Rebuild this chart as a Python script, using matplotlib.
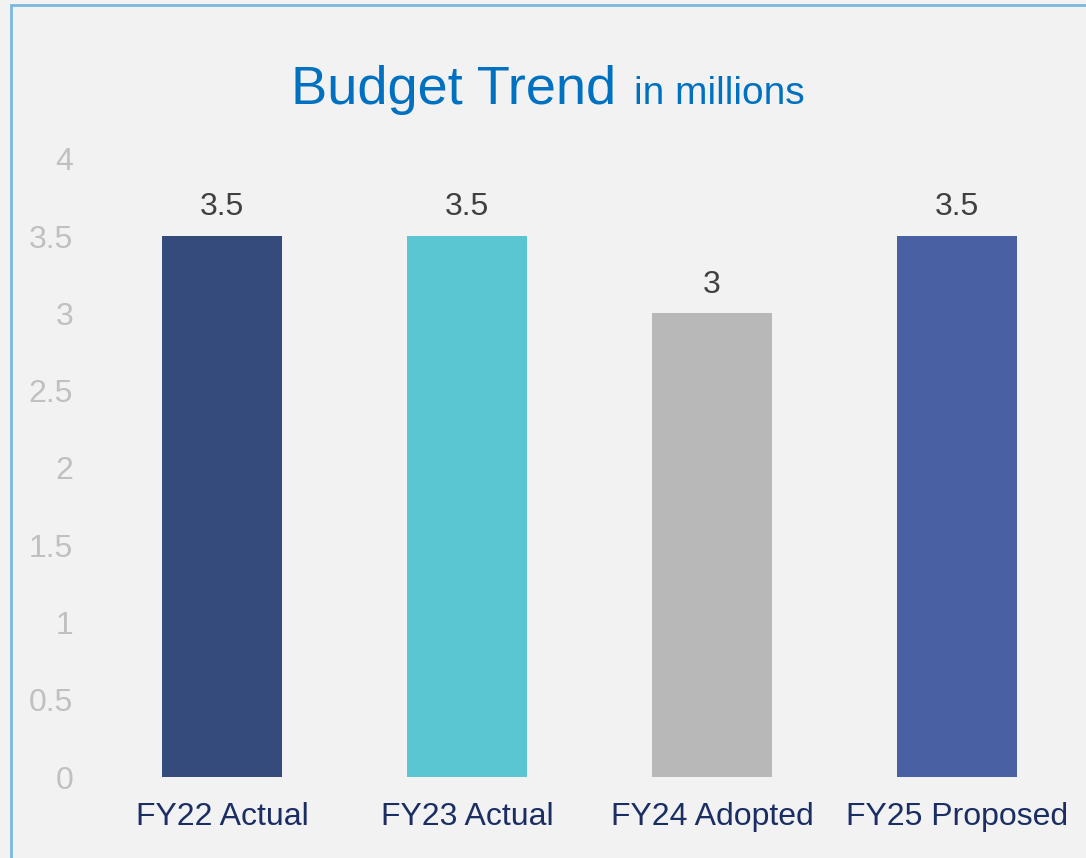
import matplotlib
matplotlib.use("Agg")
import matplotlib.pyplot as plt
from matplotlib.patches import Rectangle

# data (millions)
categories = ["FY22 Actual", "FY23 Actual", "FY24 Adopted", "FY25 Proposed"]
values = [3.5, 3.5, 3.0, 3.5]
value_labels = ["3.5", "3.5", "3", "3.5"]
bar_colors = ["#344b7b", "#5ac6d2", "#b8b8b8", "#4961a2"]
y_ticks = [0, 0.5, 1, 1.5, 2, 2.5, 3, 3.5, 4]
y_tick_labels = ["0", "0.5", "1", "1.5", "2", "2.5", "3", "3.5", "4"]

plt.rcParams["font.family"] = ["Liberation Sans", "DejaVu Sans"]

fig = plt.figure(figsize=(10.86, 8.58), dpi=100, facecolor="#f2f2f2")
ax = fig.add_axes([0.0916, 0.0944, 0.9024, 0.7203])
ax.set_facecolor("none")

x = list(range(len(categories)))
bars = ax.bar(x, values, width=0.486, color=bar_colors, zorder=2)

for b, lab in zip(bars, value_labels):
    ax.annotate(lab, (b.get_x() + b.get_width() / 2, b.get_height()),
                xytext=(0, 10), textcoords="offset points",
                ha="center", va="bottom", fontsize=23, color="#404040")

ax.set_xlim(-0.5, 3.5)
ax.set_ylim(0, 4)
ax.set_yticks(y_ticks)
ax.set_yticklabels(y_tick_labels, fontsize=23, color="#c0c0c0")
ax.set_xticks(x)
ax.set_xticklabels(categories, fontsize=23, color="#1b2e63")
ax.tick_params(axis="both", length=0)
ax.tick_params(axis="y", pad=19)
ax.tick_params(axis="x", pad=18)
for s in ax.spines.values():
    s.set_visible(False)

# title in two sizes
fig.text(616 / 1086, 0.879, "Budget Trend", fontsize=39, color="#0070c0",
         ha="right", va="baseline")
fig.text(634 / 1086, 0.879, "in millions", fontsize=28, color="#0070c0",
         ha="left", va="baseline")

# light blue frame (top and left edges visible)
fig.patches.append(Rectangle((11 / 1086, -0.05), 1.2, 0.05 + (858 - 5) / 858,
                             transform=fig.transFigure, fill=False,
                             edgecolor="#7ab8e0", linewidth=2))

fig.savefig("out.png", dpi=100, facecolor=fig.get_facecolor())
